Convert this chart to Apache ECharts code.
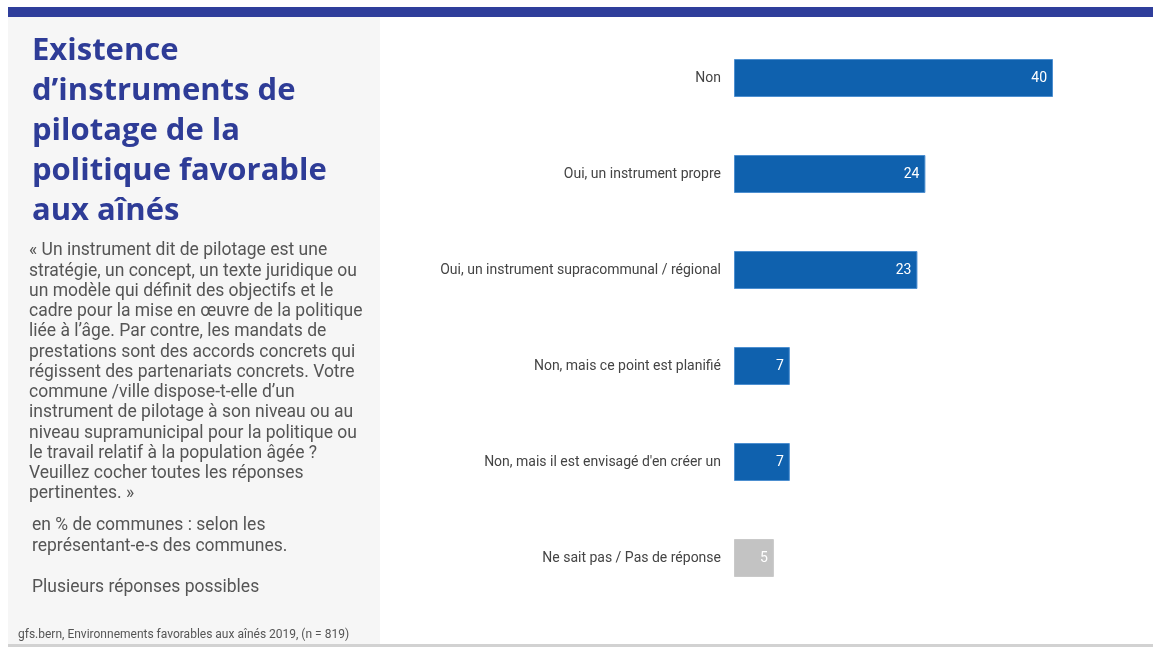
<!DOCTYPE html>
<html>
<head>
<meta charset="utf-8">
<script src="https://cdn.jsdelivr.net/npm/echarts@6/dist/echarts.min.js"></script>
<style>
  html, body { margin: 0; padding: 0; background: #fff; }
  #chart { width: 1153px; height: 647px; }
</style>
</head>
<body>
<div id="chart"></div>
<script>
// categories, top to bottom
var categories = [
	"Non",
	"Oui, un instrument propre",
	"Oui, un instrument supracommunal / régional",
	"Non, mais ce point est planifié",
	"Non, mais il est envisagé d'en créer un",
	"Ne sait pas / Pas de réponse"
];
var values = [40, 24, 23, 7, 7, 5];
var barColors = ["#0f61ae", "#0f61ae", "#0f61ae", "#0f61ae", "#0f61ae", "#c3c3c3"];

var titleLines = ["Existence", "d’instruments de", "pilotage de la", "politique favorable", "aux aînés"];
var bodyLines = [
	"« Un instrument dit de pilotage est une",
	"stratégie, un concept, un texte juridique ou",
	"un modèle qui définit des objectifs et le",
	"cadre pour la mise en œuvre de la politique",
	"liée à l’âge. Par contre, les mandats de",
	"prestations sont des accords concrets qui",
	"régissent des partenariats concrets. Votre",
	"commune /ville dispose-t-elle d’un",
	"instrument de pilotage à son niveau ou au",
	"niveau supramunicipal pour la politique ou",
	"le travail relatif à la population âgée ?",
	"Veuillez cocher toutes les réponses",
	"pertinentes. »"
];
var noteLines = ["en % de communes : selon les", "représentant-e-s des communes."];
var noteExtra = "Plusieurs réponses possibles";
var sourceText = "gfs.bern, Environnements favorables aux aînés 2019, (n = 819)";

var chart = echarts.init(document.getElementById("chart"));

//背景、标题、说明文字
var graphics = [
	{ type: "rect", shape: { x: 8, y: 7, width: 1145, height: 10 }, style: { fill: "#2f3e9b" }, z: 0 },
	{ type: "rect", shape: { x: 8, y: 17, width: 372, height: 627 }, style: { fill: "#f6f6f6" }, z: 0 },
	{ type: "rect", shape: { x: 8, y: 644, width: 1145, height: 3 }, style: { fill: "#d2d2d2" }, z: 0 }
];
for (var i = 0; i < titleLines.length; i++) {
	graphics.push({
		type: "text", left: 32, top: 36 + i * 40, z: 2,
		style: { text: titleLines[i], font: "bold 31px 'Open Sans'", fill: "#2e3c97" }
	});
}
for (var j = 0; j < bodyLines.length; j++) {
	graphics.push({
		type: "text", left: 29, top: 242 + j * 20.25, z: 2,
		style: { text: bodyLines[j], font: "17.5px Roboto", fill: "#555555" }
	});
}
for (var k = 0; k < noteLines.length; k++) {
	graphics.push({
		type: "text", left: 32, top: 517 + k * 21, z: 2,
		style: { text: noteLines[k], font: "17.5px Roboto", fill: "#555555" }
	});
}
graphics.push({
	type: "text", left: 32, top: 579, z: 2,
	style: { text: noteExtra, font: "17.5px Roboto", fill: "#555555" }
});
graphics.push({
	type: "text", left: 18, top: 629, z: 2,
	style: { text: sourceText, font: "12px Roboto", fill: "#555555" }
});

var option = {
	animation: false,
	graphic: graphics,
	grid: { left: 734, top: 30, width: 319, height: 576, containLabel: false },
	xAxis: {
		type: "value", min: 0, max: 40, show: false
	},
	yAxis: {
		type: "category",
		data: categories,
		inverse: true,
		axisLine: { show: false },
		axisTick: { show: false },
		axisLabel: { margin: 13, color: "#444444", fontSize: 14, fontFamily: "Roboto" }
	},
	series: [{
		type: "bar",
		barWidth: 38,
		data: values.map(function(v, idx) {
			return { value: v, itemStyle: { color: barColors[idx], borderColor: idx < 5 ? "#4d8fd0" : "#c9c9c9", borderWidth: 1 } };
		}),
		label: {
			show: true, position: "insideRight", distance: 6,
			color: "#ffffff", fontSize: 14, fontFamily: "Roboto"
		}
	}]
};
chart.setOption(option);
</script>
</body>
</html>
